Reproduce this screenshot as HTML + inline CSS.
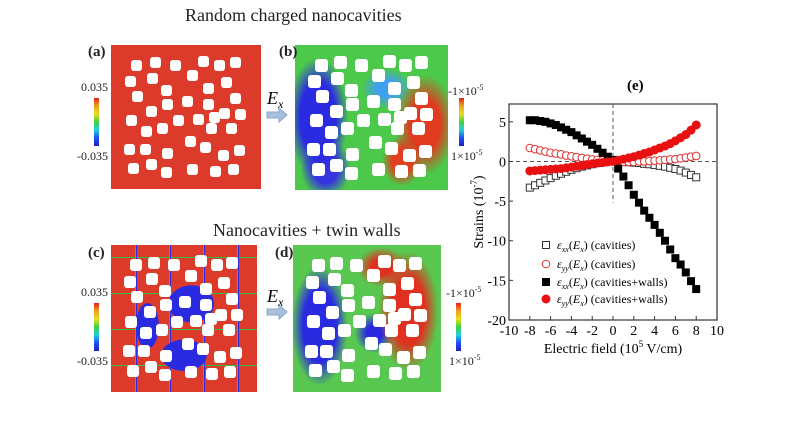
<!DOCTYPE html>
<html><head><meta charset="utf-8">
<style>
body{margin:0;background:#fff;}
#root{position:relative;width:804px;height:434px;overflow:hidden;background:#fff;font-family:"Liberation Serif",serif;color:#222;}
.t{position:absolute;white-space:nowrap;}
.panel{position:absolute;overflow:hidden;}
.hole{position:absolute;background:#fff;border-radius:3px;}
.cbar{position:absolute;width:5px;background:linear-gradient(to bottom,#e02020,#f0a020,#e8e020,#40d040,#20d0e0,#2050f0,#2020c0);}
</style></head><body>
<div id="root">
<div class="t" style="left:185px;top:5px;font-size:18px;">Random charged nanocavities</div>
<div class="t" style="left:213px;top:220px;font-size:18px;">Nanocavities + twin walls</div>

<div class="panel" id="pa" style="left:111px;top:45px;width:150px;height:144px;background:#dc3a2a;"></div>
<div class="panel" id="pb" style="left:295px;top:45px;width:153px;height:145px;background:
radial-gradient(ellipse 30px 60px at 15% 50%,#2a2ae0 60%,transparent 100%),
radial-gradient(ellipse 25px 30px at 20% 85%,#3535e0 50%,transparent 100%),
radial-gradient(ellipse 30px 50px at 85% 55%,#e03a20 50%,transparent 100%),
radial-gradient(ellipse 20px 25px at 70% 80%,#e04020 50%,transparent 100%),
radial-gradient(ellipse 25px 20px at 60% 30%,#40a0f0 40%,transparent 100%),
#4cc84a;"></div>
<div class="panel" id="pc" style="left:111px;top:245px;width:146px;height:147px;background:
radial-gradient(ellipse 32px 26px at 55% 40%,#2a2ae0 70%,transparent 72%),
radial-gradient(ellipse 32px 22px at 50% 75%,#2a2ae0 70%,transparent 72%),
radial-gradient(ellipse 16px 32px at 25% 55%,#2a2ae0 70%,transparent 72%),
repeating-linear-gradient(90deg,transparent 0 24px,#30c040 24px 25px,#2a2ae0 25px 26px,transparent 26px 34px),
repeating-linear-gradient(0deg,transparent 0 26px,#30c040 26px 27px,transparent 27px 36px),
#dc3a2a;"></div>
<div class="panel" id="pd" style="left:293px;top:245px;width:148px;height:147px;background:
radial-gradient(ellipse 28px 60px at 18% 55%,#2a2ae0 60%,transparent 100%),
radial-gradient(ellipse 30px 60px at 78% 45%,#e03020 55%,transparent 100%),
radial-gradient(ellipse 20px 20px at 55% 60%,#2a2ae0 40%,transparent 100%),
radial-gradient(ellipse 25px 20px at 60% 15%,#e03020 40%,transparent 100%),
#58c850;"></div>

<div class="t" style="left:88px;top:44px;font-size:15px;font-weight:bold;">(a)</div>
<div class="t" style="left:279px;top:44px;font-size:15px;font-weight:bold;">(b)</div>
<div class="t" style="left:88px;top:245px;font-size:15px;font-weight:bold;">(c)</div>
<div class="t" style="left:275px;top:245px;font-size:15px;font-weight:bold;">(d)</div>

<div class="cbar" style="left:94px;top:98px;height:48px;"></div>
<div class="t" style="left:81px;top:80px;font-size:12px;">0.035</div>
<div class="t" style="left:77px;top:149px;font-size:12px;">-0.035</div>
<div class="cbar" style="left:459px;top:98px;height:48px;"></div>
<div class="t" style="left:448px;top:83px;font-size:12px;">-1×10<sup style="font-size:8px">-5</sup></div>
<div class="t" style="left:451px;top:148px;font-size:12px;">1×10<sup style="font-size:8px">-5</sup></div>
<div class="cbar" style="left:94px;top:303px;height:48px;"></div>
<div class="t" style="left:81px;top:285px;font-size:12px;">0.035</div>
<div class="t" style="left:77px;top:354px;font-size:12px;">-0.035</div>
<div class="cbar" style="left:456px;top:303px;height:48px;"></div>
<div class="t" style="left:446px;top:285px;font-size:12px;">-1×10<sup style="font-size:8px">-5</sup></div>
<div class="t" style="left:449px;top:353px;font-size:12px;">1×10<sup style="font-size:8px">-5</sup></div>

<svg style="position:absolute;left:0;top:0" width="804" height="434">
<polygon points="267,112 279,112 279,108 287,115 279,122 279,118 267,118" fill="#a8c0dc" stroke="#8aa8cc"/>
<polygon points="267,309 279,309 279,305 287,312 279,319 279,315 267,315" fill="#a8c0dc" stroke="#8aa8cc"/>
<text x="267" y="104" font-family="Liberation Serif" font-style="italic" font-size="18">E<tspan font-size="12" dy="4">x</tspan></text>
<text x="267" y="302" font-family="Liberation Serif" font-style="italic" font-size="18">E<tspan font-size="12" dy="4">x</tspan></text>
</svg>

<svg id="chart" style="position:absolute;left:0;top:0" width="804" height="434"></svg>
</div>
<script>
const holes=[[170,75],[225,68],[287,75],[370,63],[418,75],[465,68],[150,125],[218,115],[338,105],[440,127],[172,168],[258,150],[385,145],[465,175],[262,192],[322,183],[385,192],[213,213],[432,220],[480,222],[155,240],[295,240],[355,237],[402,232],[200,275],[248,265],[393,265],[455,265],[330,305],[375,322],[148,327],[195,327],[262,340],[430,345],[478,332],[160,385],[215,373],[258,398],[338,387],[405,393],[460,388]];
[['pa',11],['pb',13],['pc',12],['pd',13]].forEach(([id,s])=>{
  const p=document.getElementById(id);const W=p.offsetWidth,H=p.offsetHeight;
  holes.forEach(h=>{const d=document.createElement('div');d.className='hole';
    
    
    d.style.left=((h[0]-92)/451*W-s/2)+'px';d.style.top=((h[1]-15)/432*H-s/2)+'px';d.style.width=s+'px';d.style.height=s+'px';p.appendChild(d);});
});
</script>
<script>
const fields=[-8,-7.5,-7,-6.5,-6,-5.5,-5,-4.5,-4,-3.5,-3,-2.5,-2,-1.5,-1,-0.5,0,0.5,1,1.5,2,2.5,3,3.5,4,4.5,5,5.5,6,6.5,7,7.5,8];
const xxCav=[-3.3,-3.0,-2.7,-2.4,-2.1,-1.8,-1.55,-1.3,-1.05,-0.85,-0.65,-0.5,-0.35,-0.2,-0.1,0,0.1,0,-0.05,-0.1,-0.15,-0.2,-0.3,-0.35,-0.45,-0.55,-0.65,-0.8,-0.95,-1.15,-1.4,-1.7,-2.0];
const yyCav=[1.7,1.55,1.4,1.25,1.1,1.0,0.9,0.75,0.65,0.55,0.45,0.35,0.25,0.2,0.15,0.1,0.05,0,-0.05,-0.05,-0.05,0,0,0.05,0.1,0.15,0.2,0.25,0.3,0.4,0.5,0.6,0.7];
const xxWall=[5.2,5.2,5.1,5.0,4.8,4.6,4.3,4.0,3.7,3.3,2.9,2.5,2.1,1.6,1.1,0.6,0.2,-0.9,-1.9,-3.0,-4.2,-5.2,-6.2,-7.1,-8.0,-9.0,-10.0,-11.1,-12.2,-13.0,-14.0,-15.1,-16.1];
const yyWall=[-1.2,-1.15,-1.1,-1.05,-1.0,-0.95,-0.9,-0.8,-0.7,-0.6,-0.5,-0.4,-0.3,-0.2,-0.15,-0.05,0,0.15,0.3,0.45,0.6,0.8,1.0,1.2,1.45,1.7,1.95,2.25,2.6,3.0,3.4,3.95,4.6];
const xTicks=[-10,-8,-6,-4,-2,0,2,4,6,8,10];
const yTicks=[5,0,-5,-10,-15,-20];
const L=509,R=717,T=104,B=320,xmin=-10,xmax=10,ymin=-20,ymax=7.25;
const X=v=>L+(v-xmin)/(xmax-xmin)*(R-L);
const Y=v=>B-(v-ymin)/(ymax-ymin)*(B-T);
const svg=document.getElementById('chart');const NS='http://www.w3.org/2000/svg';
function mk(tag,at,txt){const e=document.createElementNS(NS,tag);for(const k in at)e.setAttribute(k,at[k]);if(txt!=null)e.textContent=txt;svg.appendChild(e);return e;}
let e;
e=mk('rect',{x:L,y:T,width:R-L,height:B-T,fill:'none',stroke:'#333','stroke-width':1.2});


e=mk('line',{x1:X(0),x2:X(0),y1:T,y2:Y(-5.2),stroke:'#555','stroke-dasharray':'4,3'});


e=mk('line',{x1:L,x2:R,y1:Y(0),y2:Y(0),stroke:'#555','stroke-dasharray':'4,3'});


xTicks.forEach(t=>{
  e=mk('line',{x1:X(t),x2:X(t),y1:B,y2:B-4,stroke:'#333'});
  
  
  e=mk('text',{x:X(t),y:B+15,'text-anchor':'middle','font-size':14,'font-family':'Liberation Serif'},t);
  
  
});
yTicks.forEach(t=>{
  e=mk('line',{x1:L,x2:L+4,y1:Y(t),y2:Y(t),stroke:'#333'});
  
  
  e=mk('text',{x:L-3,y:Y(t)+5,'text-anchor':'end','font-size':14,'font-family':'Liberation Serif'},t);
  
  
});
e=mk('text',{x:613,y:353,'text-anchor':'middle','font-size':14,'font-family':'Liberation Serif'});
e.innerHTML='Electric field (10<tspan font-size="9" dy="-6">5</tspan><tspan dy="6"> V/cm)</tspan>';


e=mk('text',{x:0,y:0,'text-anchor':'middle','font-size':14,'font-family':'Liberation Serif',transform:'translate(483,212) rotate(-90)'});
e.innerHTML='Strains (10<tspan font-size="9" dy="-6">-7</tspan><tspan dy="6">)</tspan>';


e=mk('text',{x:627,y:90,'font-size':15,'font-weight':'bold','font-family':'Liberation Serif'},'(e)');


function marker(kind,x,y){
  let m;
  if(kind==0)m=mk('rect',{x:x-3.5,y:y-3.5,width:7,height:7,fill:'#fff',stroke:'#333'});
  else if(kind==1)m=mk('circle',{cx:x,cy:y,r:3.8,fill:'#fff',stroke:'#e03030'});
  else if(kind==2)m=mk('rect',{x:x-4,y:y-4,width:8,height:8,fill:'#000'});
  else m=mk('circle',{cx:x,cy:y,r:4.5,fill:'#e81010'});
  return m;
}
const series=[xxCav,yyCav,xxWall,yyWall];const names=['xx-cavities','yy-cavities','xx-walls','yy-walls'];
series.forEach((s,k)=>s.forEach((v,i)=>{
  e=marker(k,X(fields[i]),Y(v));
  
  
}));
const legT=['xx','yy','xx','yy'],legS=['(cavities)','(cavities)','(cavities+walls)','(cavities+walls)'];
[245,264,282,299].forEach((yy,k)=>{
  e=marker(k,546,yy);
  
  
  e=mk('text',{x:557,y:yy+4,'font-size':12,'font-family':'Liberation Serif'});
  e.innerHTML='<tspan font-style="italic">ε</tspan><tspan font-size="8" dy="3" font-style="italic">'+legT[k]+'</tspan><tspan dy="-3">(</tspan><tspan font-style="italic">E</tspan><tspan font-size="8" dy="3" font-style="italic">x</tspan><tspan dy="-3">) '+legS[k]+'</tspan>';
  
  
});
</script>
</body></html>
